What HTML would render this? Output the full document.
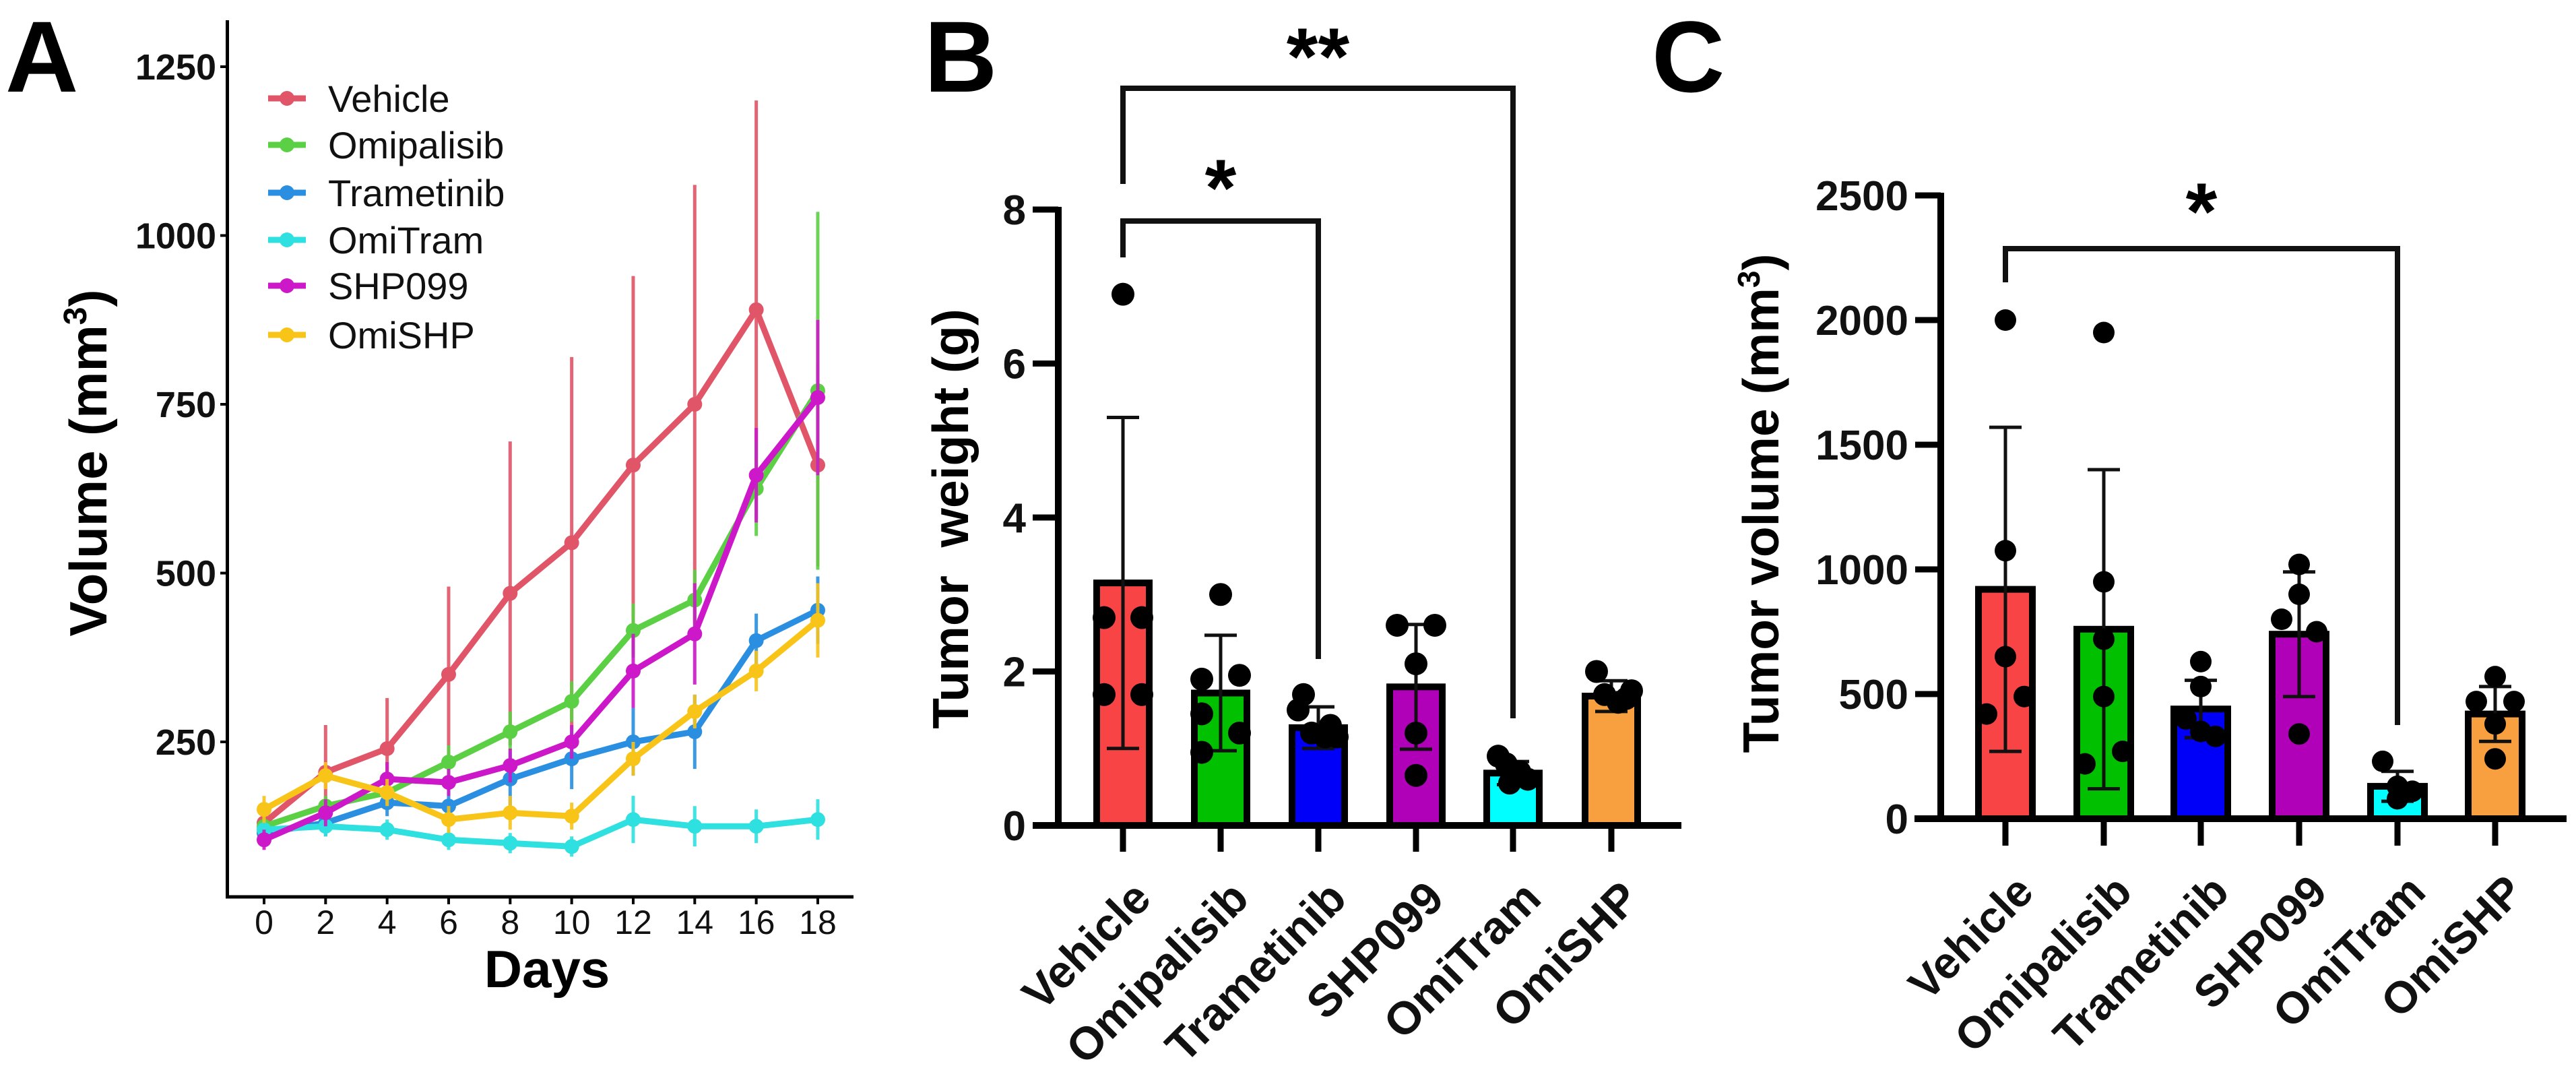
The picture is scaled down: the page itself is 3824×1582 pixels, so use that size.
<!DOCTYPE html>
<html><head><meta charset="utf-8"><style>
html,body{margin:0;padding:0;background:#fff;}
svg{display:block;font-family:"Liberation Sans",Arial,sans-serif;font-weight:bold;}
</style></head><body>
<svg id="fig" width="3824" height="1582" viewBox="0 0 3824 1582" xmlns="http://www.w3.org/2000/svg">
<g id="pa"></g>
<g id="pb"></g>
<g id="pc"></g>
</svg>
<script>
// ---- Panel A data ----
const days = [0,2,4,6,8,10,12,14,16,18];
const seriesNames = ["Vehicle","Omipalisib","Trametinib","OmiTram","SHP099","OmiSHP"];
const vehicleMean = [130,205,240,350,470,545,660,750,890,660];
const vehicleErr = [20,70,75,130,225,275,280,325,310,150];
const omipalisibMean = [125,155,175,220,265,310,415,460,625,770];
const omipalisibErr = [15,15,20,25,30,30,40,45,70,265];
const trametinibMean = [115,130,160,155,195,225,250,265,400,445];
const trametinibErr = [15,20,20,25,40,45,50,55,40,50];
const omitramMean = [120,125,120,105,100,95,135,125,125,135];
const omitramErr = [15,15,15,15,15,15,35,30,25,30];
const shp099Mean = [105,145,195,190,215,250,355,410,645,760];
const shp099Err = [15,20,25,20,25,25,55,75,70,115];
const omishpMean = [150,200,175,135,145,140,225,295,355,430];
const omishpErr = [20,20,20,20,25,20,25,25,30,55];
const aYTicks = [250,500,750,1000,1250];
const aXTicks = [0,2,4,6,8,10,12,14,16,18];
// ---- Panel B data ----
const groups = ["Vehicle","Omipalisib","Trametinib","SHP099","OmiTram","OmiSHP"];
const weightMean = [3.15,1.72,1.27,1.8,0.68,1.68];
const weightSD = [2.15,0.75,0.27,0.81,0.15,0.2];
const weightPoints = [[6.9,2.7,2.7,1.7,1.7],[3.0,1.9,1.95,1.45,1.2,0.95],[1.7,1.5,1.3,1.2,1.15,1.15],[2.6,2.6,2.1,1.2,0.65],[0.9,0.8,0.7,0.55,0.6],[2.0,1.7,1.6,1.65,1.75]];
const bYTicks = [0,2,4,6,8];
// ---- Panel C data ----
const volumeMean = [920,760,440,740,130,420];
const volumeSD = [650,640,115,250,60,110];
const volumePoints = [[2000,1075,650,490,420],[1950,950,720,490,270,220],[630,530,400,350,330],[1020,900,800,750,340],[230,130,110,80],[570,470,470,380,240]];
const cYTicks = [0,500,1000,1500,2000,2500];

const NS="http://www.w3.org/2000/svg";
function mk(parent,tag,attrs){const e=document.createElementNS(NS,tag);for(const k in attrs)e.setAttribute(k,attrs[k]);parent.appendChild(e);return e;}

// ===== Panel A =====
const pa=document.getElementById('pa');
const ax=d=>392+(d/2)*91.33;
const ay=v=>1351.5-v*1.002;
const lineColors=["#e05567","#5bd044","#2a8fe0","#2ee0e0","#cc18c8","#f8c418"];
const means=[vehicleMean,omipalisibMean,trametinibMean,omitramMean,shp099Mean,omishpMean];
const errs=[vehicleErr,omipalisibErr,trametinibErr,omitramErr,shp099Err,omishpErr];
let t=mk(pa,'text',{x:8,y:136,'font-size':150});t.textContent='A';


let l=mk(pa,'path',{d:'M337.5 30 V1331 H1267',stroke:'#000','stroke-width':5,fill:'none'});


aYTicks.forEach(v=>{
 mk(pa,'line',{x1:327,x2:337.5,y1:ay(v),y2:ay(v),stroke:'#000','stroke-width':4});
 const e=mk(pa,'text',{x:321,y:ay(v)+19,'text-anchor':'end','font-size':54,fill:'#111'});e.textContent=v;
 
 
});
aXTicks.forEach(d=>{
 mk(pa,'line',{x1:ax(d),x2:ax(d),y1:1331,y2:1342,stroke:'#000','stroke-width':4});
 const e=mk(pa,'text',{x:ax(d),y:1386,'text-anchor':'middle','font-size':50,'font-weight':'normal',fill:'#111'});e.textContent=d;
 
 
});
t=mk(pa,'text',{x:812,y:1465,'text-anchor':'middle','font-size':78});t.textContent='Days';


t=mk(pa,'text',{transform:'translate(158,687) rotate(-90)','text-anchor':'middle','font-size':78});
t.innerHTML='Volume (mm<tspan font-size="48" dy="-30">3</tspan><tspan dy="30">)</tspan>';


means.forEach((m,s)=>{
 const g=mk(pa,'g',{});
 
 
 m.forEach((v,i)=>{mk(g,'line',{x1:ax(days[i]),x2:ax(days[i]),y1:ay(v-errs[s][i]),y2:ay(v+errs[s][i]),stroke:lineColors[s],'stroke-width':5,opacity:0.9});});
 mk(g,'polyline',{points:m.map((v,i)=>ax(days[i])+','+ay(v)).join(' '),fill:'none',stroke:lineColors[s],'stroke-width':9,'stroke-linejoin':'round'});
 m.forEach((v,i)=>{mk(g,'circle',{cx:ax(days[i]),cy:ay(v),r:11,fill:lineColors[s]});});
});
const legY=[146,215,286,356,424,497];
seriesNames.forEach((n,s)=>{
 const g=mk(pa,'g',{});
 
 
 mk(g,'line',{x1:398,x2:454,y1:legY[s],y2:legY[s],stroke:lineColors[s],'stroke-width':9});
 mk(g,'circle',{cx:426,cy:legY[s],r:11,fill:lineColors[s]});
 const e=mk(g,'text',{x:487,y:legY[s]+20,'font-size':56,'font-weight':'normal',fill:'#111'});e.textContent=n;
});

// ===== Bar panels =====
const barFills=["#f84444","#00c000","#0000f8","#b000b8","#00ffff","#f8a040"];
const jitB=[[0,-28,28,-28,28],[0,-28,28,-28,28,-28],[-22,-30,18,-10,10,28],[-28,28,0,0,0],[-22,-10,10,-5,22],[-22,-10,10,22,30]];
const jitC=[[0,0,0,28,-28],[0,0,0,0,28,-28],[0,0,-22,0,22],[0,0,-26,26,0],[-22,0,22,0],[0,-28,28,0,0]];
function barPanel(p,cfg){
 const y=v=>cfg.y0-v*cfg.ppu;
 let e=mk(p,'text',{x:cfg.lx,y:136,'font-size':150});e.textContent=cfg.letter;
 
 
 e=mk(p,'path',{d:`M${cfg.axX} ${y(cfg.ticks[cfg.ticks.length-1])-4} V${cfg.y0} M${cfg.xs} ${cfg.y0} H${cfg.xe}`,stroke:'#000','stroke-width':10,fill:'none'});
 
 
 cfg.ticks.forEach(v=>{
  mk(p,'line',{x1:cfg.axX-38,x2:cfg.axX,y1:y(v),y2:y(v),stroke:'#000','stroke-width':9});
  const tt=mk(p,'text',{x:cfg.axX-48,y:y(v)+22,'text-anchor':'end','font-size':62,fill:'#111'});tt.textContent=v;
  
  
 });
 e=mk(p,'text',{transform:`translate(${cfg.ylx},${cfg.yly}) rotate(-90)`,'text-anchor':'middle','font-size':75});
 e.innerHTML=cfg.ytitle;
 
 
 groups.forEach((gname,i)=>{
  const cx=cfg.cx[i],bw=cfg.bw;
  const g=mk(p,'g',{});
  
  
  mk(g,'rect',{x:cx-bw/2,y:y(cfg.mean[i]),width:bw,height:cfg.y0-y(cfg.mean[i]),fill:barFills[i],stroke:'#000','stroke-width':10});
  const lo=Math.max(0,cfg.mean[i]-cfg.sd[i]),hi=cfg.mean[i]+cfg.sd[i];
  mk(g,'line',{x1:cx,x2:cx,y1:y(lo),y2:y(hi),stroke:'#111','stroke-width':5});
  mk(g,'line',{x1:cx-24,x2:cx+24,y1:y(hi),y2:y(hi),stroke:'#111','stroke-width':5});
  mk(g,'line',{x1:cx-24,x2:cx+24,y1:y(lo),y2:y(lo),stroke:'#111','stroke-width':5});
  cfg.pts[i].forEach((v,k)=>{mk(g,'ellipse',{cx:cx+(cfg.jit[i][k]||0),cy:y(v),rx:cfg.dot,ry:cfg.dot,fill:'#000'});});
  mk(p,'line',{x1:cx,x2:cx,y1:cfg.y0,y2:cfg.tickB,stroke:'#000','stroke-width':9});
  const tl=mk(p,'text',{transform:`translate(${cx+45},${cfg.y0+112}) rotate(-45)`,'text-anchor':'end','font-size':cfg.xfs,fill:'#111'});
  tl.textContent=gname;
  
  
 });
 cfg.sig.forEach(s=>{
  const b=mk(p,'path',{d:`M${cfg.cx[s.a]} ${s.ya} V${s.top} H${cfg.cx[s.b]} V${s.yb}`,stroke:'#111','stroke-width':8,fill:'none'});
  
  
  const st=mk(p,'text',{x:(cfg.cx[s.a]+cfg.cx[s.b])/2,y:s.ly,'text-anchor':'middle','font-size':120});
  st.textContent=s.label;
  
  
 });
}
barPanel(document.getElementById('pb'),{letter:'B',lx:1372,axX:1571,y0:1225,ppu:114.25,xs:1533,xe:2496,tickB:1264,ticks:bYTicks,bw:78,dot:17,xfs:68,jit:jitB,
 cx:[1667,1812,1957,2102,2246,2392],mean:weightMean,sd:weightSD,pts:weightPoints,ylx:1437,yly:770,
 ytitle:'Tumor&#160; weight (g)',
 sig:[{a:0,b:4,top:131,ya:273,yb:1066,ly:125,label:'**'},{a:0,b:2,top:328,ya:382,yb:978,ly:320,label:'*'}]});
barPanel(document.getElementById('pc'),{letter:'C',lx:2452,axX:2881,y0:1215,ppu:0.37,xs:2842,xe:3810,tickB:1255,ticks:cYTicks,bw:80,dot:16,xfs:66,jit:jitC,
 cx:[2977,3123,3267,3413,3559,3704],mean:volumeMean,sd:volumeSD,pts:volumePoints,ylx:2640,yly:747,
 ytitle:'Tumor volume (mm<tspan font-size="46" dy="-28">3</tspan><tspan dy="28">)</tspan>',
 sig:[{a:0,b:4,top:369,ya:419,yb:1076,ly:355,label:'*'}]});
</script>
</body></html>
